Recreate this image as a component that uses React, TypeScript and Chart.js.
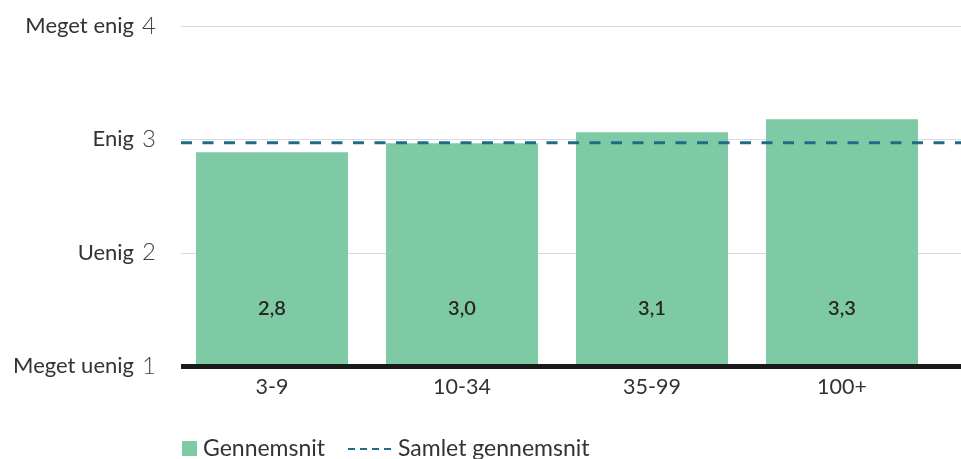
import React, { useEffect, useRef } from "react";
import { Chart, registerables } from "chart.js";

Chart.register(...registerables);

const categories = ["3-9", "10-34", "35-99", "100+"];
const averages = [2.885, 2.965, 3.062, 3.177];
const valueLabels = ["2,8", "3,0", "3,1", "3,3"];
const overallAverage = 2.97;
const yTickValues = [1, 2, 3, 4];
const yTickNames = ["Meget uenig", "Uenig", "Enig", "Meget enig"];
const legendLabels = ["Gennemsnit", "Samlet gennemsnit"];

const GREEN = "#7ecaa5";
const TEAL = "#1f6c86";
const FONT = "Lato, 'Open Sans', sans-serif";

export default function App() {
  const ref = useRef<HTMLCanvasElement | null>(null);

  useEffect(() => {
    const canvas = ref.current;
    if (!canvas) return;
    const LINE_LEFT = 181;

    const decor = {
      id: "decor",
      beforeDatasetsDraw(chart: any) {
        const { ctx } = chart;
        const y = chart.scales.y;
        ctx.save();
        ctx.strokeStyle = "#d9d9d9";
        ctx.lineWidth = 1;
        yTickValues.forEach((v) => {
          if (v === 1) return;
          const py = Math.round(y.getPixelForValue(v)) + 0.5;
          ctx.beginPath();
          ctx.moveTo(LINE_LEFT, py);
          ctx.lineTo(chart.width, py);
          ctx.stroke();
        });
        ctx.restore();
      },
      afterDatasetsDraw(chart: any) {
        const { ctx } = chart;
        const y = chart.scales.y;
        const meta = chart.getDatasetMeta(0);
        ctx.save();
        // dashed overall average line
        const py = y.getPixelForValue(overallAverage);
        ctx.strokeStyle = TEAL;
        ctx.lineWidth = 3;
        ctx.setLineDash([11, 10.5]);
        ctx.beginPath();
        ctx.moveTo(LINE_LEFT, py);
        ctx.lineTo(chart.width, py);
        ctx.stroke();
        ctx.setLineDash([]);
        // base axis
        const by = y.getPixelForValue(1);
        ctx.strokeStyle = "#1a1a1a";
        ctx.lineWidth = 5;
        ctx.beginPath();
        ctx.moveTo(LINE_LEFT, by + 0.5);
        ctx.lineTo(chart.width, by + 0.5);
        ctx.stroke();
        // value labels
        ctx.fillStyle = "#262626";
        ctx.font = `600 20px ${FONT}`;
        ctx.textAlign = "center";
        ctx.textBaseline = "middle";
        meta.data.forEach((bar: any, i: number) => {
          ctx.fillText(valueLabels[i], bar.x, y.getPixelForValue(1.51));
        });
        // x labels
        ctx.fillStyle = "#333333";
        ctx.font = `400 21.5px ${FONT}`;
        meta.data.forEach((bar: any, i: number) => {
          ctx.fillText(categories[i], bar.x, by + 21);
        });
        // y labels
        yTickValues.forEach((v, i) => {
          const ty = y.getPixelForValue(v);
          ctx.textAlign = "right";
          ctx.textBaseline = "middle";
          ctx.fillStyle = "#444444";
          ctx.font = `300 24px ${FONT}`;
          ctx.fillText(String(v), 156, ty);
          ctx.fillStyle = "#333333";
          ctx.font = `400 22px ${FONT}`;
          ctx.fillText(yTickNames[i], 134, ty);
        });
        // legend
        const ly = 449;
        ctx.fillStyle = GREEN;
        ctx.fillRect(182, 441, 15, 15);
        ctx.fillStyle = "#333333";
        ctx.font = `400 23px ${FONT}`;
        ctx.textAlign = "left";
        ctx.fillText(legendLabels[0], 203, ly);
        ctx.strokeStyle = TEAL;
        ctx.lineWidth = 2;
        ctx.setLineDash([7, 5]);
        ctx.beginPath();
        ctx.moveTo(348, ly);
        ctx.lineTo(392, ly);
        ctx.stroke();
        ctx.setLineDash([]);
        ctx.fillText(legendLabels[1], 398, ly);
        ctx.restore();
      },
    };

    const chart = new Chart(canvas, {
      type: "bar",
      data: {
        labels: categories,
        datasets: [
          {
            label: legendLabels[0],
            data: averages,
            backgroundColor: GREEN,
            borderWidth: 0,
            barPercentage: 0.8,
            categoryPercentage: 1,
          },
        ],
      },
      options: {
        animation: false,
        responsive: false,
        maintainAspectRatio: false,
        layout: { padding: { left: 177, right: 24, top: 26, bottom: 93 } },
        plugins: { legend: { display: false }, tooltip: { enabled: false } },
        scales: {
          x: { display: false, offset: true },
          y: { display: false, min: 1, max: 4 },
        },
      },
      plugins: [decor],
    });
    return () => chart.destroy();
  }, []);

  return (
    <div style={{ position: "fixed", left: 0, top: 0, width: 961, height: 459, background: "#fff" }}>
      <canvas ref={ref} width={961} height={459} style={{ width: 961, height: 459 }} />
    </div>
  );
}
